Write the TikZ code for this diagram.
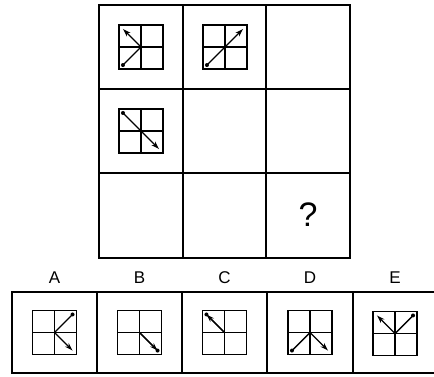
\documentclass[tikz,border=0pt]{standalone}
\usepackage{fontspec}
\setmainfont{Liberation Sans}
\usetikzlibrary{calc,arrows.meta}
\tikzset{
  x=1pt,y=-1pt,
  frame/.style={line width=2.8pt},
  minibox/.style={draw,line width=1.4pt,minimum size=44pt,inner sep=0pt,outer sep=0pt},
  arr/.style={line width=1.4pt,-{Stealth[length=8pt,width=5pt]}},
  ln/.style={line width=1.4pt},
  lbl/.style={font=\fontsize{17}{17}\selectfont,inner sep=0pt},
}
\newcommand\mgrid[1]{\draw[line width=1.4pt] (#1.north)--(#1.south) (#1.west)--(#1.east);}
\newcommand\arrowto[2]{\draw[arr] (#1.center) -- ($(#1.#2)!0.18!(#1.center)$);}
\newcommand\dotto[2]{\draw[ln] (#1.center) -- ($(#1.#2)!0.18!(#1.center)$);
  \fill ($(#1.#2)!0.18!(#1.center)$) circle (2pt);}
\begin{document}
\begin{tikzpicture}
\useasboundingbox (0,0) rectangle (434,376);
% main grid
\draw[frame] (99,5) rectangle (350,258);
\draw[frame] (183,5) -- (183,258) (266,5) -- (266,258) (99,89) -- (350,89) (99,173) -- (350,173);
% cell figures
\node[minibox] (c11) at (141,47) {}; \mgrid{c11}
\arrowto{c11}{north west} \dotto{c11}{south west}
\node[minibox] (c12) at (225,47) {}; \mgrid{c12}
\arrowto{c12}{north east} \dotto{c12}{south west}
\node[minibox] (c21) at (141,131) {}; \mgrid{c21}
\arrowto{c21}{south east} \dotto{c21}{north west}
\node[font=\fontsize{34}{34}\selectfont,inner sep=0pt] (q) at (308,214.5) {?};
% answer row
\draw[frame] (12,292) rectangle (436,373);
\draw[frame] (97,292) -- (97,373) (182,292) -- (182,373) (267,292) -- (267,373) (353,292) -- (353,373);
\node[lbl] (la) at (54.5,278) {A};
\node[lbl] (lb) at (139.5,278) {B};
\node[lbl] (lc) at (224.5,278) {C};
\node[lbl] (ld) at (310,278) {D};
\node[lbl] (le) at (395,278) {E};
\node[minibox] (a) at (54.5,332.5) {}; \mgrid{a}
\arrowto{a}{south east} \dotto{a}{north east}
\node[minibox] (b) at (139.5,332.5) {}; \mgrid{b}
\arrowto{b}{south east} \dotto{b}{south east}
\node[minibox] (c) at (224.5,332.5) {}; \mgrid{c}
\arrowto{c}{north west} \dotto{c}{north west}
\node[minibox] (d) at (310,332.5) {}; \mgrid{d}
\arrowto{d}{south east} \dotto{d}{south west}
\node[minibox] (e) at (395,333.5) {}; \mgrid{e}
\arrowto{e}{north west} \dotto{e}{north east}
\end{tikzpicture}
\end{document}
